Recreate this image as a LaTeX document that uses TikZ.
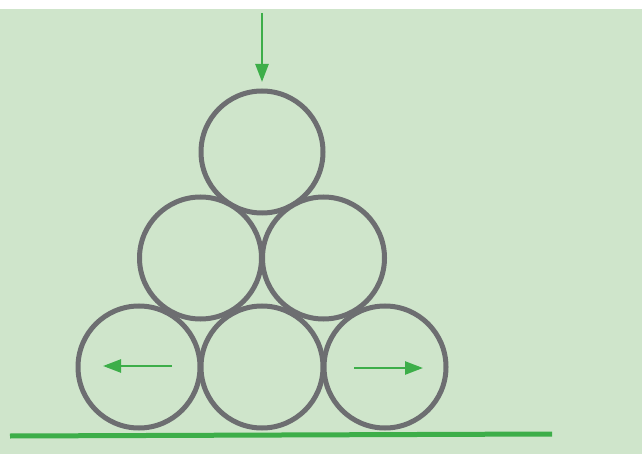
\documentclass[tikz,border=0pt]{standalone}
\usepackage{tikz}
\usetikzlibrary{arrows.meta}

\definecolor{bgreen}{HTML}{CFE5CB}
\definecolor{pushgreen}{HTML}{3DAE49}
\definecolor{rollgray}{HTML}{6D6E71}

\tikzset{
  roll/.style={circle, draw=rollgray, line width=5pt, minimum size=122pt, inner sep=0pt},
  push/.style={draw=pushgreen, line width=2.5pt, -{Triangle[length=18pt,width=13pt]}}
}

\begin{document}
\begin{tikzpicture}[x=1pt,y=-1pt]
\useasboundingbox (0,0) rectangle (642,454);
\fill[white] (0,0) rectangle (642,454);
\fill[bgreen] (0,9) rectangle (642,454);

% bottom row
\node[roll] (R1) at (139,367) {};
\node[roll] (R2) at (262,367) {};
\node[roll] (R3) at (385,367) {};
% middle row
\node[roll] (R4) at (200.5,258) {};
\node[roll] (R5) at (323.5,258) {};
% top
\node[roll] (R6) at (262,152) {};

% ground
\coordinate (G1) at (10,436);
\coordinate (G2) at (552,434);
\draw[pushgreen, line width=5pt] (G1) -- (G2);

% forces
\coordinate (F0) at (262,13);
\coordinate (F1) at (262,82);
\draw[push] (F0) -- (F1);
\coordinate (L0) at (172,366);
\coordinate (L1) at (103,366);
\draw[push] (L0) -- (L1);
\coordinate (P0) at (354,368);
\coordinate (P1) at (423,368);
\draw[push] (P0) -- (P1);
\end{tikzpicture}
\end{document}
